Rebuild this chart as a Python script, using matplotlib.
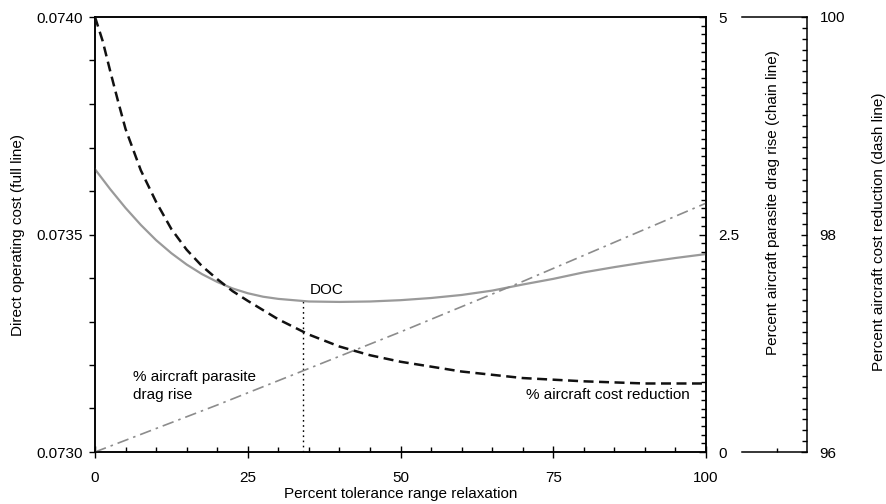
import matplotlib
matplotlib.use("Agg")
import matplotlib.pyplot as plt
from matplotlib.ticker import MultipleLocator, FixedLocator

plt.rcParams["font.family"] = ["Liberation Sans", "DejaVu Sans"]

# values
relax = [0, 2.5, 5, 7.5, 10, 12.5, 15, 17.5, 20, 22.5, 25, 27.5, 30, 35, 40, 45, 50,
         55, 60, 65, 70, 75, 80, 85, 90, 95, 100]
doc = [0.073650, 0.073604, 0.073561, 0.073522, 0.073487, 0.073457, 0.073431, 0.073409,
       0.073391, 0.073376, 0.073365, 0.073357, 0.073352, 0.073346, 0.073345, 0.073346,
       0.073349, 0.073354, 0.073361, 0.073371, 0.073385, 0.073398, 0.073413, 0.073425,
       0.073436, 0.073446, 0.073455]

relax_drag = [0, 10, 20, 30, 40, 50, 60, 70, 80, 90, 100]
drag_rise = [0, 0.27, 0.54, 0.82, 1.10, 1.38, 1.67, 1.96, 2.26, 2.56, 2.86]

relax_cost = [0, 1.25, 2.5, 3.75, 5, 6.25, 7.5, 10, 12.5, 15, 17.5, 20, 22.5, 25, 30, 35,
              40, 45, 50, 60, 70, 80, 90, 100]
cost_red = [100.0, 99.78, 99.50, 99.23, 98.97, 98.78, 98.59, 98.30, 98.05, 97.86, 97.71,
            97.59, 97.48, 97.39, 97.22, 97.08, 96.97, 96.89, 96.83, 96.74, 96.68, 96.65,
            96.63, 96.63]

doc_opt = 34
doc_opt_val = 0.073346

W, H = 886, 504
fig = plt.figure(figsize=(W / 100, H / 100), dpi=100)
left, right, top, bottom = 95, 706, 17, 452
ax = fig.add_axes([left / W, 1 - bottom / H, (right - left) / W, (bottom - top) / H])

lw_sp = 1.1
for s in ax.spines.values():
    s.set_linewidth(lw_sp)

ax.plot(relax, doc, color="#9a9a9a", lw=1.6, zorder=3)
ax.plot([doc_opt, doc_opt], [0.0730, doc_opt_val], color="black", lw=1.0,
        linestyle=(0, (1.2, 2.5)), zorder=2)
ax.set_xlim(0, 100)
ax.set_ylim(0.0730, 0.0740)
ax.set_yticks([0.0730, 0.0735, 0.0740])
ax.set_yticklabels(["0.0730", "0.0735", "0.0740"])
ax.yaxis.set_minor_locator(MultipleLocator(0.0001))
ax.set_xticks([0, 25, 50, 75, 100])
ax.xaxis.set_minor_locator(MultipleLocator(5))
ax.tick_params(axis="y", which="both", direction="out", length=4, width=1, labelsize=11, pad=5)
ax.tick_params(axis="x", which="major", direction="inout", length=8, width=1, labelsize=11, pad=10)
ax.tick_params(axis="x", which="minor", direction="in", length=3.5, width=1)
ax.set_xlabel("Percent tolerance range relaxation", fontsize=11, labelpad=1)

# chain line axis
ax2 = ax.twinx()
ax2.plot(relax_drag, drag_rise, color="#8c8c8c", lw=1.2, linestyle=(0, (7, 3, 1.5, 3)))
ax2.set_ylim(0, 5)
ax2.set_yticks([0, 2.5, 5])
ax2.set_yticklabels(["0", "2.5", "5"])
ax2.yaxis.set_minor_locator(MultipleLocator(0.1))
ax2.tick_params(axis="y", which="major", direction="in", length=5, width=1, labelsize=11, pad=9)
ax2.tick_params(axis="y", which="minor", direction="in", length=3.5, width=1)
for s in ax2.spines.values():
    s.set_linewidth(lw_sp)

# dash line data axis (hidden)
ax3 = ax.twinx()
ax3.plot(relax_cost, cost_red, color="#111111", lw=1.8, linestyle=(0, (4, 2.2)))
ax3.set_ylim(96, 100)
ax3.axis("off")

# separate box for the dash line scale
bx_l, bx_r = 742, 807
ax4 = fig.add_axes([bx_l / W, 1 - bottom / H, (bx_r - bx_l) / W, (bottom - top) / H])
ax4.set_ylim(96, 100)
ax4.set_xlim(0, 1)
ax4.spines["left"].set_visible(False)
for s in ["top", "bottom", "right"]:
    ax4.spines[s].set_linewidth(lw_sp)
ax4.patch.set_alpha(0)
ax4.yaxis.tick_right()
ax4.set_yticks([96, 98, 100])
ax4.set_yticklabels(["96", "98", "100"])
ax4.yaxis.set_minor_locator(MultipleLocator(0.1))
ax4.tick_params(axis="y", which="major", direction="in", length=4, width=1, labelsize=11, pad=9)
ax4.tick_params(axis="y", which="minor", direction="in", length=3.5, width=1)
ax4.xaxis.set_major_locator(FixedLocator([0.54]))
ax4.tick_params(axis="x", direction="in", length=3, width=1, labelbottom=False)

# axis titles
fig.text(18 / W, 1 - 235 / H, "Direct operating cost (full line)", rotation=90,
         ha="center", va="center", fontsize=11)
fig.text(773 / W, 1 - 203 / H, "Percent aircraft parasite drag rise (chain line)", rotation=90,
         ha="center", va="center", fontsize=11)
fig.text(879 / W, 1 - 232 / H, "Percent aircraft cost reduction (dash line)", rotation=90,
         ha="center", va="center", fontsize=11)

# annotations
ax.text(38, 0.073372, "DOC", fontsize=11, ha="center", va="center")
ax.text(6.2, 0.073152, "% aircraft parasite\ndrag rise", fontsize=11, ha="left", va="center",
        linespacing=1.3)
ax.text(97.4, 0.073131, "% aircraft cost reduction", fontsize=11, ha="right", va="center")

fig.savefig("out.png", dpi=100)
